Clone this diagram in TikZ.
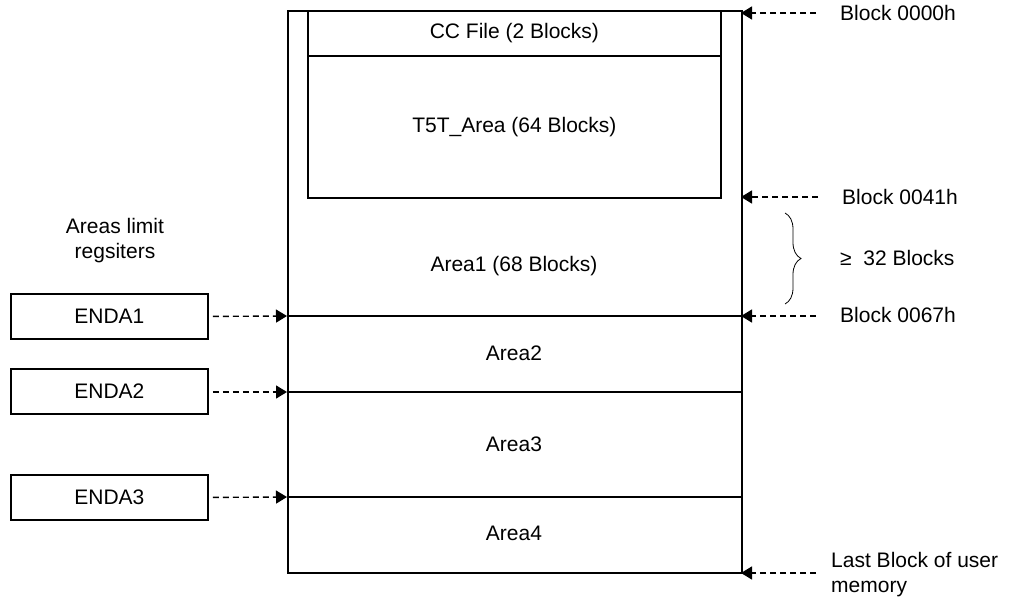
\documentclass[tikz,border=0pt]{standalone}
\usepackage{fontspec}
\setmainfont{Liberation Sans}
\usetikzlibrary{positioning, arrows.meta, decorations.pathreplacing}
\tikzstyle{word} = [align=center, font=\fontsize{21}{25}\selectfont]
\tikzstyle{reg} = [word, draw, line width=1.8pt, minimum width=197pt, minimum height=45pt, inner sep=0pt]
\tikzstyle{link} = [dash pattern=on 6pt off 4pt, line width=1.4pt, -{Triangle[length=11pt,width=13pt]}]

\begin{document}
\begin{tikzpicture}[x=1pt, y=-1pt, line width=1.8pt]
\useasboundingbox (0,0) rectangle (1010,604);

%nodes
\node (mem) [draw, minimum width=454pt, minimum height=562pt, anchor=north west, inner sep=0pt] at (287,10) {};
\node (cc) [word, draw, minimum width=413pt, minimum height=45pt, anchor=north west, inner sep=0pt] at (307,10) {CC File (2 Blocks)};
\node (t5t) [word, draw, minimum width=413pt, minimum height=142pt, below=-1.8pt of cc, inner sep=0pt] {T5T\_Area (64 Blocks)};
\node (a1) [word] at (514,266) {Area1 (68 Blocks)};
\node (a2) [word] at (514,353) {Area2};
\node (a3) [word] at (514,444) {Area3};
\node (a4) [word] at (514,533) {Area4};

\node (lim) [word] at (115,241) {Areas limit\\regsiters};
\node (r1) [reg, anchor=north west] at (10,293) {ENDA1};
\node (r2) [reg, anchor=north west] at (10,368) {ENDA2};
\node (r3) [reg, anchor=north west] at (10,474) {ENDA3};

\node (b0) [word, anchor=west] at (836,13) {Block 0000h};
\node (b41) [word, anchor=west] at (838,197) {Block 0041h};
\node (min) [word, anchor=west] at (836,258) {≥\ \ 32 Blocks};
\node (b67) [word, anchor=west] at (836,315) {Block 0067h};
\node (last) [word, anchor=west, align=left] at (827,575) {Last Block of user\\memory};

%coordinates on the memory edges
\coordinate (e1) at (287,316);
\coordinate (e2) at (287,392);
\coordinate (e3) at (287,497);
\coordinate (t0) at (741,13);
\coordinate (t41) at (741,197);
\coordinate (t67) at (741,316);
\coordinate (tl) at (741,573);

%dividers
\draw (e1) -- (e1 -| mem.east);
\draw (e2) -- (e2 -| mem.east);
\draw (e3) -- (e3 -| mem.east);

%arrows
\draw [link] ([xshift=4pt]r1.east) -- (e1);
\draw [link] ([xshift=4pt]r2.east |- e2) -- (e2);
\draw [link] ([xshift=4pt]r3.east) -- (e3);
\draw [link] ([xshift=-20pt]b0.west) -- (t0);
\draw [link] ([xshift=-20pt]b41.west) -- (t41);
\draw [link] ([xshift=-20pt]b67.west |- t67) -- (t67);
\draw [link] ([xshift=-11pt]last.west |- tl) -- (tl);

%brace
\draw [line width=0.8pt, decorate, decoration={brace, amplitude=16pt}] (785,213) -- (785,304);

\end{tikzpicture}
\end{document}
